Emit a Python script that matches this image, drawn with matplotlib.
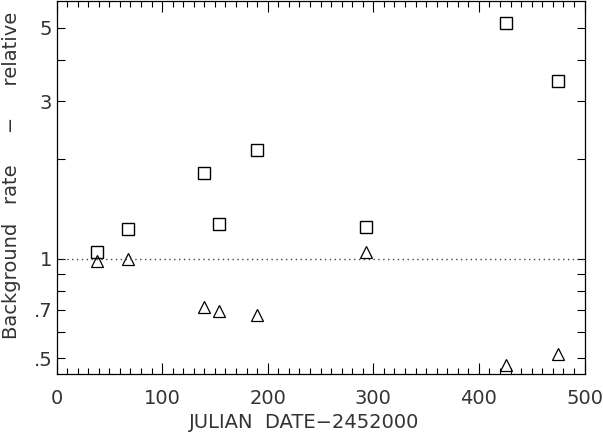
import matplotlib
matplotlib.use("Agg")
import matplotlib.pyplot as plt
from matplotlib.ticker import FixedLocator, FixedFormatter, MultipleLocator, NullFormatter

# julian date - 2452000 and relative background rates
jd_sq = [38, 68, 140, 154, 190, 293, 426, 475]
rate_sq = [1.05, 1.23, 1.82, 1.27, 2.14, 1.25, 5.16, 3.45]
jd_tri = [38, 68, 140, 154, 190, 293, 426, 475]
rate_tri = [0.985, 1.0, 0.715, 0.695, 0.675, 1.045, 0.478, 0.515]

ytick_vals = [0.5, 0.7, 1, 3, 5]
ytick_labels = [".5", ".7", "1", "3", "5"]
yminor_vals = [0.6, 0.8, 0.9, 2, 4]

plt.rcParams["font.family"] = ["DejaVu Sans"]

fig = plt.figure(figsize=(6.03, 4.33), dpi=100)
ax = fig.add_axes([56.5 / 603, 59 / 433, 528 / 603, 373.5 / 433])

ax.plot(jd_sq, rate_sq, linestyle="none", marker="s", markersize=8.5,
        markerfacecolor="none", markeredgecolor="black", markeredgewidth=1)
ax.plot(jd_tri, rate_tri, linestyle="none", marker="^", markersize=8.5,
        markerfacecolor="none", markeredgecolor="black", markeredgewidth=0.9)
ax.plot([0, 500], [1, 1], linestyle=(0, (1, 2.5)), color="#444444", linewidth=1)

ax.set_yscale("log")
ax.set_xlim(0, 500)
ax.set_ylim(0.448, 6.05)

ax.yaxis.set_major_locator(FixedLocator(ytick_vals))
ax.yaxis.set_major_formatter(FixedFormatter(ytick_labels))
ax.yaxis.set_minor_locator(FixedLocator(yminor_vals))
ax.yaxis.set_minor_formatter(NullFormatter())
ax.xaxis.set_major_locator(MultipleLocator(100))
ax.xaxis.set_minor_locator(MultipleLocator(10))

ax.tick_params(which="both", direction="in", top=True, right=True,
               width=0.8, labelsize=14, colors="black")
ax.tick_params(axis="x", which="major", length=8, pad=11)
ax.tick_params(axis="x", which="minor", length=4)
ax.tick_params(axis="y", which="both", length=6, pad=3)
for lbl in ax.get_xticklabels() + ax.get_yticklabels():
    lbl.set_color("#333333")

for s in ax.spines.values():
    s.set_linewidth(0.9)

ax.set_xlabel("JULIAN  DATE\u22122452000", fontsize=14, color="#333333")
ax.set_ylabel("Background   rate     \u2212     relative", fontsize=14, color="#333333")
ax.xaxis.set_label_coords(0.469, -0.105)
ax.yaxis.set_label_coords(-0.068, 0.533)

fig.savefig("out.png", dpi=100)
